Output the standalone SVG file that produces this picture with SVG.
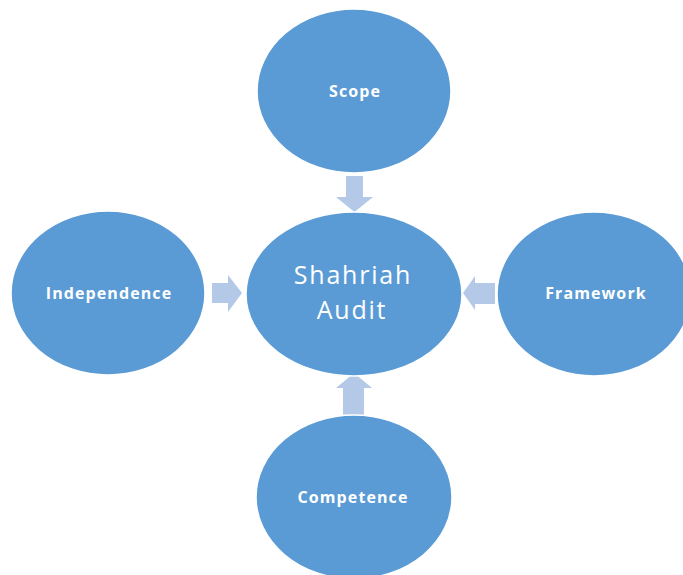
<svg xmlns="http://www.w3.org/2000/svg" width="683" height="575" viewBox="0 0 683 575">
<style>
.node{fill:#5B9BD5;stroke:#FFFFFF;stroke-width:1.5}
.lbl{fill:#FFFFFF;font-family:"Open Sans","DejaVu Sans",sans-serif;font-weight:bold;font-size:16px;letter-spacing:1.1px;text-anchor:middle}
.main{fill:#FFFFFF;font-family:"Open Sans","DejaVu Sans",sans-serif;font-size:25px;letter-spacing:1.8px;text-anchor:middle}
.arr{fill:#B4C9E8}
</style>
<rect width="683" height="575" fill="#FFFFFF"/>
<g id="connectors">
<polygon class="arr" points="346,176 363,176 363,197 373,197 354.5,212 336,197 346,197"/>
<polygon class="arr" points="212,283 228,283 228,275 242,293 228,312 228,303 212,303"/>
<polygon class="arr" points="495,283 475,283 475,276 463,293 475,310 475,304 495,304"/>
<polygon class="arr" points="343,415 364,415 364,388 372,388 354,373 336,388 343,388"/>
</g>
<g id="scope">
<ellipse class="node" cx="354" cy="91" rx="97" ry="82"/>
<text class="lbl" x="355" y="97">Scope</text>
</g>
<g id="center">
<ellipse class="node" cx="354" cy="294" rx="108" ry="82"/>
<text class="main" x="353" y="284">Shahriah</text>
<text class="main" x="352" y="319">Audit</text>
</g>
<g id="independence">
<ellipse class="node" cx="108" cy="293" rx="97" ry="82"/>
<text class="lbl" x="109" y="299">Independence</text>
</g>
<g id="framework">
<ellipse class="node" cx="594" cy="294" rx="97" ry="82"/>
<text class="lbl" x="596" y="299">Framework</text>
</g>
<g id="competence">
<ellipse class="node" cx="354" cy="497" rx="98" ry="82"/>
<text class="lbl" x="353" y="503">Competence</text>
</g>
</svg>
